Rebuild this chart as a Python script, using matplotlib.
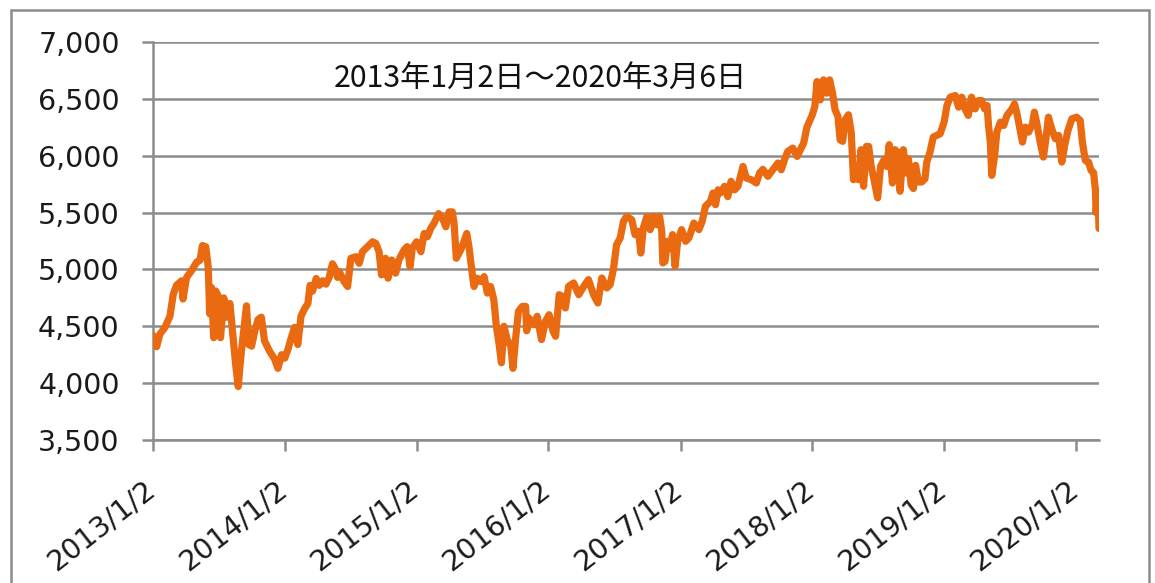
import matplotlib
matplotlib.use('Agg')
import matplotlib.pyplot as plt
import matplotlib.transforms as mtransforms
from matplotlib.patches import Rectangle
import pandas as pd

plt.rcParams['font.family'] = ['DejaVu Sans']

# ---------------- data ----------------
dates_2013 = ["2013-01-02", "2013-01-12", "2013-01-21", "2013-02-04", "2013-02-18", "2013-02-27",
              "2013-03-08", "2013-03-22", "2013-03-26", "2013-04-05", "2013-04-19", "2013-05-03",
              "2013-05-12", "2013-05-19", "2013-05-28", "2013-06-04", "2013-06-08", "2013-06-13",
              "2013-06-19", "2013-06-25", "2013-07-01", "2013-07-08", "2013-07-17", "2013-07-25",
              "2013-08-03", "2013-08-12", "2013-08-19", "2013-08-26", "2013-09-01", "2013-09-08",
              "2013-09-18", "2013-09-24", "2013-10-02", "2013-10-11", "2013-10-20", "2013-10-29",
              "2013-11-07", "2013-11-21", "2013-12-05", "2013-12-14", "2013-12-24"]
values_2013 = [4420, 4320, 4430, 4490, 4590, 4780,
               4860, 4900, 4740, 4930, 4990, 5065,
               5080, 5210, 5200, 5020, 4610, 4840,
               4400, 4810, 4770, 4400, 4750, 4580,
               4700, 4400, 4160, 3970, 4190, 4400,
               4680, 4340, 4325, 4460, 4560, 4580,
               4370, 4280, 4210, 4130, 4250]

dates_2014 = ["2014-01-02", "2014-01-11", "2014-01-20", "2014-01-29", "2014-02-07", "2014-02-16",
              "2014-02-25", "2014-03-07", "2014-03-13", "2014-03-20", "2014-03-30", "2014-04-08",
              "2014-04-17", "2014-04-26", "2014-05-05", "2014-05-14", "2014-05-22", "2014-05-28",
              "2014-06-02", "2014-06-15", "2014-06-25", "2014-07-04", "2014-07-18", "2014-07-27",
              "2014-08-05", "2014-08-19", "2014-09-02", "2014-09-11", "2014-09-20", "2014-09-27",
              "2014-10-08", "2014-10-15", "2014-10-25", "2014-11-05", "2014-11-14", "2014-11-28",
              "2014-12-07", "2014-12-15", "2014-12-21"]
values_2014 = [4220, 4300, 4400, 4490, 4340, 4590,
               4650, 4700, 4860, 4810, 4920, 4860,
               4900, 4870, 4930, 5050, 5005, 4930,
               4980, 4894, 4850, 5098, 5112, 5054,
               5156, 5200, 5243, 5229, 5156, 4952,
               5098, 4923, 5083, 4967, 5083, 5170,
               5200, 5025, 5185]

dates_2015 = ["2015-01-02", "2015-01-14", "2015-01-23", "2015-02-01", "2015-02-10", "2015-02-19",
              "2015-03-04", "2015-03-15", "2015-03-24", "2015-04-02", "2015-04-11", "2015-04-16",
              "2015-04-22", "2015-05-04", "2015-05-13", "2015-05-21", "2015-05-27", "2015-06-05",
              "2015-06-10", "2015-06-19", "2015-06-29", "2015-07-08", "2015-07-17", "2015-07-26",
              "2015-08-04", "2015-08-11", "2015-08-18", "2015-08-25", "2015-09-01", "2015-09-10",
              "2015-09-20", "2015-09-26", "2015-10-03", "2015-10-11", "2015-10-22", "2015-10-31",
              "2015-11-03", "2015-11-09", "2015-11-23", "2015-12-02", "2015-12-14", "2015-12-25"]
values_2015 = [5243, 5156, 5316, 5287, 5360, 5404,
               5491, 5448, 5375, 5506, 5506, 5404,
               5098, 5170, 5243, 5316, 5200, 4967,
               4850, 4923, 4894, 4937, 4792, 4850,
               4733, 4500, 4354, 4179, 4500, 4383,
               4325, 4130, 4383, 4631, 4675, 4675,
               4460, 4573, 4514, 4588, 4383, 4544]

dates_2016 = ["2016-01-04", "2016-01-15", "2016-01-22", "2016-02-01", "2016-02-09", "2016-02-18",
              "2016-02-27", "2016-03-12", "2016-03-26", "2016-04-09", "2016-04-22", "2016-05-06",
              "2016-05-18", "2016-05-29", "2016-06-12", "2016-06-21", "2016-06-30", "2016-07-09",
              "2016-07-19", "2016-07-28", "2016-08-06", "2016-08-20", "2016-08-29", "2016-09-08",
              "2016-09-14", "2016-09-21", "2016-10-01", "2016-10-10", "2016-10-19", "2016-10-28",
              "2016-11-05", "2016-11-11", "2016-11-14", "2016-11-20", "2016-11-27", "2016-12-04",
              "2016-12-11", "2016-12-18", "2016-12-25"]
values_2016 = [4602, 4456, 4412, 4778, 4764, 4661,
               4851, 4881, 4778, 4851, 4910, 4778,
               4705, 4925, 4837, 4866, 4998, 5218,
               5276, 5423, 5467, 5437, 5306, 5335,
               5144, 5364, 5467, 5350, 5467, 5393,
               5467, 5335, 5057, 5071, 5247, 5188,
               5306, 5027, 5247]

dates_2017 = ["2017-01-05", "2017-01-16", "2017-01-25", "2017-02-08", "2017-02-22", "2017-03-03",
              "2017-03-12", "2017-03-26", "2017-04-02", "2017-04-09", "2017-04-16", "2017-04-23",
              "2017-05-04", "2017-05-13", "2017-05-22", "2017-06-01", "2017-06-10", "2017-06-24",
              "2017-07-03", "2017-07-17", "2017-07-31", "2017-08-09", "2017-08-18", "2017-09-01",
              "2017-09-15", "2017-09-29", "2017-10-08", "2017-10-17", "2017-10-26", "2017-11-09",
              "2017-11-21", "2017-11-30", "2017-12-09", "2017-12-18"]
values_2017 = [5350, 5247, 5276, 5408, 5350, 5423,
               5555, 5599, 5672, 5569, 5700, 5673,
               5731, 5640, 5775, 5700, 5731, 5906,
               5804, 5789, 5760, 5848, 5880, 5819,
               5877, 5936, 5877, 5965, 6038, 6067,
               5994, 6053, 6111, 6250]

dates_2018 = ["2018-01-02", "2018-01-09", "2018-01-15", "2018-01-24", "2018-02-02", "2018-02-11",
              "2018-02-19", "2018-02-27", "2018-03-06", "2018-03-14", "2018-03-20", "2018-03-27",
              "2018-04-03", "2018-04-12", "2018-04-20", "2018-04-26", "2018-05-02", "2018-05-10",
              "2018-05-17", "2018-05-24", "2018-06-01", "2018-06-07", "2018-06-14", "2018-06-20",
              "2018-07-02", "2018-07-10", "2018-07-20", "2018-07-27", "2018-08-03", "2018-08-12",
              "2018-08-19", "2018-08-28", "2018-09-02", "2018-09-11", "2018-09-20", "2018-09-25",
              "2018-10-03", "2018-10-09", "2018-10-15", "2018-10-23", "2018-11-01", "2018-11-10",
              "2018-11-15", "2018-11-24", "2018-12-03", "2018-12-12", "2018-12-22"]
values_2018 = [6360, 6433, 6652, 6491, 6667, 6550,
               6667, 6550, 6404, 6345, 6140, 6126,
               6316, 6360, 6199, 5789, 5906, 5789,
               6053, 5731, 6082, 6082, 5906, 5819,
               5629, 5906, 5965, 5906, 6097, 5760,
               6053, 6023, 5687, 6053, 5848, 5974,
               5740, 5711, 5915, 5769, 5769, 5798,
               5944, 6032, 6164, 6178, 6193]

dates_2019 = ["2019-01-02", "2019-01-10", "2019-01-19", "2019-02-02", "2019-02-11", "2019-02-20",
              "2019-03-01", "2019-03-10", "2019-03-19", "2019-03-29", "2019-04-07", "2019-04-16",
              "2019-04-24", "2019-05-01", "2019-05-05", "2019-05-10", "2019-05-14", "2019-05-22",
              "2019-05-28", "2019-06-07", "2019-06-16", "2019-06-25", "2019-07-09", "2019-07-16",
              "2019-07-23", "2019-08-01", "2019-08-07", "2019-08-15", "2019-08-24", "2019-09-04",
              "2019-09-09", "2019-09-16", "2019-09-25", "2019-10-04", "2019-10-11", "2019-10-18",
              "2019-10-27", "2019-11-06", "2019-11-15", "2019-11-24", "2019-12-02", "2019-12-11",
              "2019-12-22"]
values_2019 = [6295, 6442, 6515, 6529, 6427, 6515,
               6412, 6354, 6515, 6412, 6485, 6485,
               6412, 6442, 6266, 6120, 5827, 6003,
               6208, 6295, 6266, 6354, 6412, 6456,
               6368, 6222, 6120, 6251, 6208, 6281,
               6383, 6281, 6120, 5988, 6149, 6339,
               6237, 6149, 6178, 5944, 6091, 6222,
               6325]

dates_2020 = ["2020-01-04", "2020-01-14", "2020-01-20", "2020-01-28", "2020-02-06", "2020-02-13",
              "2020-02-20", "2020-02-25", "2020-02-27", "2020-03-02", "2020-03-04", "2020-03-06"]
values_2020 = [6339, 6310, 6120, 5959, 5944, 5871,
               5850, 5700, 5500, 5680, 5600, 5360]

title_text = "2013年1月2日～2020年3月6日"
x_tick_dates = ["2013-01-02", "2014-01-02", "2015-01-02", "2016-01-02",
                "2017-01-02", "2018-01-02", "2019-01-02", "2020-01-02"]
x_tick_labels = ["2013/1/2", "2014/1/2", "2015/1/2", "2016/1/2",
                 "2017/1/2", "2018/1/2", "2019/1/2", "2020/1/2"]
y_ticks = [3500, 4000, 4500, 5000, 5500, 6000, 6500, 7000]

# ---------------- figure ----------------
W, H = 1155, 583
fig = plt.figure(figsize=(W / 100, H / 100), dpi=100)
fig.patch.set_facecolor('white')

ax = fig.add_axes([153 / W, 1 - 440 / H, (1099 - 153) / W, (440 - 42) / H])

all_dates = pd.to_datetime(dates_2013 + dates_2014 + dates_2015 + dates_2016 +
                           dates_2017 + dates_2018 + dates_2019 + dates_2020)
all_values = (values_2013 + values_2014 + values_2015 + values_2016 +
              values_2017 + values_2018 + values_2019 + values_2020)

ax.plot(all_dates, all_values, color='#EA6A12', lw=5.2,
        solid_joinstyle='round', solid_capstyle='round', zorder=3)

grey = '#8c8c8c'
ax.set_ylim(3500, 7000)
ax.set_yticks(y_ticks)
ax.set_yticklabels([f"{v:,}" for v in y_ticks])
ax.set_xlim(pd.Timestamp('2013-01-02'), pd.Timestamp('2020-03-06'))
ax.set_xticks(pd.to_datetime(x_tick_dates))
ax.set_xticklabels(x_tick_labels, rotation=38, ha='right', va='top')

ax.yaxis.grid(True, color=grey, lw=1.8)
ax.set_axisbelow(True)
for s in ['top', 'right']:
    ax.spines[s].set_visible(False)
for s in ['left', 'bottom']:
    ax.spines[s].set_color(grey)
    ax.spines[s].set_linewidth(1.8)

ax.tick_params(axis='both', direction='out', length=8, width=1.8, color=grey,
               labelsize=20.5, labelcolor='#1a1a1a')
ax.tick_params(axis='y', pad=16)
ax.tick_params(axis='x', pad=17)

offset = mtransforms.ScaledTranslation(8 / 100, 0, fig.dpi_scale_trans)
for lbl in ax.get_xticklabels():
    lbl.set_transform(lbl.get_transform() + offset)

fig.text(540 / W, 1 - 78 / H, title_text, fontsize=21.8,
         family=['Noto Sans CJK JP', 'DejaVu Sans'],
         ha='center', va='center', color='#111111')

fig.add_artist(Rectangle((11 / W, -0.05), (1149 - 11) / W, 1 - 10 / H + 0.05,
                         transform=fig.transFigure, fill=False,
                         edgecolor=grey, lw=1.8))

fig.savefig('out.png', dpi=100, facecolor='white')
